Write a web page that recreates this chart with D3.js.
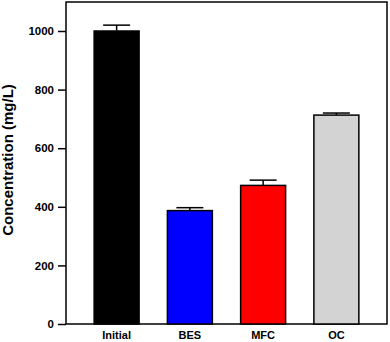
<!DOCTYPE html>
<html>
<head>
<meta charset="utf-8">
<script src="https://cdn.jsdelivr.net/npm/d3@7"></script>
<style>
  body { margin: 0; background: #fff; }
  text { font-family: "Liberation Sans", Arial, sans-serif; font-weight: bold; }
</style>
</head>
<body>
<svg id="chart" width="390" height="342"></svg>
<script>
// data
var categories = ["Initial", "BES", "MFC", "OC"];
var values = [1000, 387, 473, 713];
var errors = [20, 10, 18, 7];
var colors = ["#000000", "#0000ff", "#ff0000", "#d3d3d3"];
var yTicks = [0, 200, 400, 600, 800, 1000];

var svg = d3.select("#chart");

//plot box
var boxLeft = 66, boxRight = 387, boxTop = 2, boxBottom = 324;

var y = d3.scaleLinear()
          .domain([0, 1000])
          .range([boxBottom, 31]);

var x = d3.scaleBand()
          .domain(categories)
          .range([80, 373])
          .paddingInner(0.386)
          .paddingOuter(0.193);

//frame
svg.append("rect")
   .attr("x", boxLeft)
   .attr("y", boxTop)
   .attr("width", boxRight - boxLeft)
   .attr("height", boxBottom - boxTop)
   .attr("fill", "none")
   .attr("stroke", "#000")
   .attr("stroke-width", 1.5);

//y axis
var yAxis = svg.append("g")
               .attr("transform", "translate(" + boxLeft + ",0)")
               .call(d3.axisLeft(y).tickValues(yTicks).tickSize(8).tickPadding(4).tickFormat(d3.format("d")));
yAxis.select(".domain").remove();
yAxis.selectAll("line").attr("stroke-width", 1.5);
yAxis.selectAll("text")
     .attr("font-size", 11.5)
     .attr("font-family", "Liberation Sans, Arial, sans-serif")
     .attr("font-weight", "bold")
     .attr("fill", "#000");

//x labels
svg.append("g").selectAll("text")
   .data(categories)
   .join("text")
   .attr("x", function(d) { return x(d) + x.bandwidth() / 2; })
   .attr("y", 339)
   .attr("text-anchor", "middle")
   .attr("font-size", 11)
   .text(function(d) { return d; });

//error bars
var eb = svg.append("g");
categories.forEach(function(c, i) {
    var cx = x(c) + x.bandwidth() / 2;
    var half = x.bandwidth() * 0.3;
    eb.append("line")
      .attr("x1", cx).attr("x2", cx)
      .attr("y1", y(values[i])).attr("y2", y(values[i] + errors[i]))
      .attr("stroke", "#000").attr("stroke-width", 1.5);
    eb.append("line")
      .attr("x1", cx - half).attr("x2", cx + half)
      .attr("y1", y(values[i] + errors[i])).attr("y2", y(values[i] + errors[i]))
      .attr("stroke", "#000").attr("stroke-width", 1.5);
});

//bars
svg.append("g").selectAll("rect")
   .data(values)
   .join("rect")
   .attr("x", function(d, i) { return x(categories[i]); })
   .attr("y", function(d) { return y(d); })
   .attr("width", x.bandwidth())
   .attr("height", function(d) { return boxBottom - y(d); })
   .attr("fill", function(d, i) { return colors[i]; })
   .attr("stroke", "#000")
   .attr("stroke-width", 1.5);

//y title
svg.append("text")
   .attr("transform", "translate(13," + 160 + ")rotate(-90)")
   .attr("text-anchor", "middle")
   .attr("font-size", 15)
   .text("Concentration (mg/L)");
</script>
</body>
</html>
